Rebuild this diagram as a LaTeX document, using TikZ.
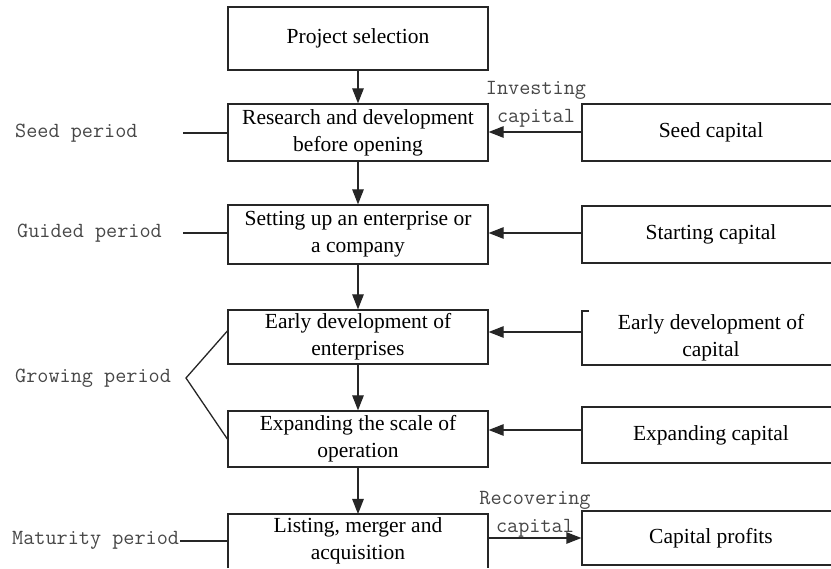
\documentclass[tikz,border=0pt]{standalone}
\usepackage{fontspec}
\setmainfont{Liberation Serif}
\usetikzlibrary{arrows.meta}
\begin{document}
\begin{tikzpicture}[x=1pt,y=-1pt,
  box/.style={draw=black!85, line width=1.3pt, minimum width=260pt, align=center, inner sep=0pt, font=\fontsize{21.5}{27}\selectfont},
  rbox/.style={box, minimum width=258pt},
  lbl/.style={font=\ttfamily\fontsize{21.6}{28}\selectfont, text=black!72, inner sep=0pt, align=center},
  conn/.style={draw=black!85, line width=1.3pt},
  arr/.style={conn, -{Triangle[length=15pt,width=11.5pt]}}]
\useasboundingbox (0,0) rectangle (831,569);
\clip (0,0) rectangle (831,569);
% left column
\node[box, minimum height=63pt] (proj) at (358,38.5) {Project selection};
\node[box, minimum height=57pt] (research) at (358,132.5) {Research and development\\before opening};
\node[box, minimum height=59pt] (setting) at (358,234.5) {Setting up an enterprise or\\a company};
\node[box, minimum height=54pt] (early) at (358,337) {Early development of\\enterprises};
\node[box, minimum height=56pt] (expand) at (358,439) {Expanding the scale of\\operation};
\node[box, draw=none, outer sep=0pt, minimum height=54pt] (listing) at (358,541) {Listing, merger and\\acquisition};
\draw[conn] (listing.south west) -- (listing.north west) -- (listing.north east) -- (listing.south east);
% right column
\node[rbox, minimum height=57pt] (seedc) at (711,132.5) {Seed capital};
\node[rbox, minimum height=57pt] (startc) at (711,234.5) {Starting capital};
\node[rbox, draw=none, outer sep=0pt, minimum height=54pt] (earlyc) at (711,338) {Early development of\\capital};
\draw[conn] ([xshift=7pt]earlyc.north west) -- (earlyc.north west) -- (earlyc.south west) -- (earlyc.south east);
\node[rbox, minimum height=56pt] (expc) at (711,435) {Expanding capital};
\node[rbox, minimum height=54pt] (profit) at (711,538) {Capital profits};
% vertical arrows
\draw[arr] (proj) -- (research);
\draw[arr] (research) -- (setting);
\draw[arr] (setting) -- (early);
\draw[arr] (early) -- (expand);
\draw[arr] (expand) -- (listing.north);
% horizontal arrows
\coordinate (ya) at (0,132);
\coordinate (yb) at (0,233);
\coordinate (yc) at (0,332);
\coordinate (yd) at (0,430);
\coordinate (ye) at (0,538);
\draw[arr] (seedc.west |- ya) -- (research.east |- ya);
\draw[arr] (startc.west |- yb) -- (setting.east |- yb);
\draw[arr] (earlyc.west |- yc) -- (early.east |- yc);
\draw[arr] (expc.west |- yd) -- (expand.east |- yd);
\draw[arr] (listing.east |- ye) -- (profit.west |- ye);
\node[lbl] (inv) at (536,104) {Investing\\capital};
\node[lbl] (rec) at (535,514) {Recovering\\capital};
% period labels
\node[lbl, anchor=west] (seedp) at (15,133) {Seed period};
\coordinate (seedp-e) at (183,133);
\draw[conn] (seedp-e) -- (research.west |- seedp-e);
\node[lbl, anchor=west] (guidp) at (17,233) {Guided period};
\coordinate (guidp-e) at (183,233);
\draw[conn] (guidp-e) -- (setting.west |- guidp-e);
\node[lbl, anchor=west] (growp) at (15,378) {Growing period};
\coordinate (growp-e) at (186,378);
\coordinate (g1) at (0,331);
\coordinate (g2) at (0,439);
\draw[conn] (early.west |- g1) -- (growp-e) -- (expand.west |- g2);
\node[lbl, anchor=west] (matp) at (12,540) {Maturity period};
\coordinate (matp-e) at (180,541);
\draw[conn] (matp-e) -- (listing.west |- matp-e);
\end{tikzpicture}
\end{document}
